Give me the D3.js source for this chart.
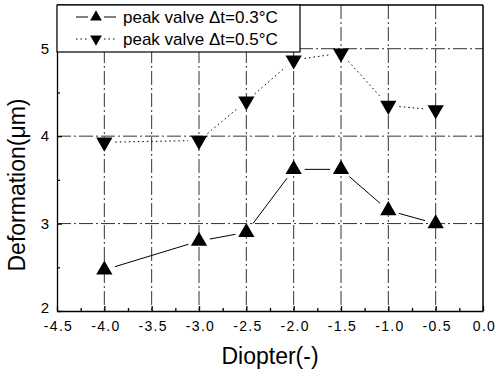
<!DOCTYPE html>
<html><head><meta charset="utf-8">
<script src="https://cdn.jsdelivr.net/npm/d3@7"></script>
<style>body{margin:0;background:#fff}svg{display:block}</style>
</head><body>
<svg id="c" width="496" height="376"></svg>
<script>
const diopter = [-4.0, -3.0, -2.5, -2.0, -1.5, -1.0, -0.5];
const dt03 = [2.47, 2.80, 2.90, 3.62, 3.62, 3.15, 3.00];
const dt05 = [3.93, 3.95, 4.40, 4.87, 4.95, 4.35, 4.30];
const xTicks = [-4.5, -4.0, -3.5, -3.0, -2.5, -2.0, -1.5, -1.0, -0.5, 0.0];
const yTicks = [2, 3, 4, 5];
const seriesNames = ["peak valve \u0394t=0.3\u00b0C", "peak valve \u0394t=0.5\u00b0C"];

const svg = d3.select("#c");
const m = {l: 57, r: 483, t: 5, b: 311};
const x = d3.scaleLinear().domain([-4.5, 0]).range([m.l, m.r]);
const y = d3.scaleLinear().domain([2, 5.5]).range([m.b, m.t]);
const font = "Liberation Sans, Arial, sans-serif";

// grid
const g = svg.append("g");
xTicks.slice(1, -1).forEach(v => {
  g.append("line").attr("x1", x(v)).attr("x2", x(v)).attr("y1", m.t).attr("y2", m.b)
    .attr("stroke", "#333").attr("stroke-width", 1).attr("stroke-dasharray", "14,3,2,3");
});
yTicks.slice(1).forEach(v => {
  g.append("line").attr("x1", m.l).attr("x2", m.r).attr("y1", y(v)).attr("y2", y(v))
    .attr("stroke", "#333").attr("stroke-width", 1).attr("stroke-dasharray", "14,3,2,3");
});

// axes
const fmtX = d => d3.format(".1f")(d).replace("\u2212", "-");
const xAxis = d3.axisBottom(x).tickValues(xTicks).tickFormat(fmtX).tickSizeInner(-5).tickSizeOuter(0).tickPadding(10);
const xg = svg.append("g").attr("transform", `translate(0,${m.b})`).call(xAxis);
const xMinor = d3.axisBottom(x).tickValues(d3.range(-4.25, 0, 0.5)).tickFormat("").tickSizeInner(-3).tickSizeOuter(0);
svg.append("g").attr("transform", `translate(0,${m.b})`).call(xMinor).select(".domain").remove();
const yAxis = d3.axisLeft(y).tickValues(yTicks).tickFormat(d3.format("d")).tickSizeInner(-5).tickSizeOuter(0).tickPadding(8);
const yg = svg.append("g").attr("transform", `translate(${m.l},0)`).call(yAxis);
const yMinor = d3.axisLeft(y).tickValues([2.5, 3.5, 4.5, 5.5]).tickFormat("").tickSizeInner(-3).tickSizeOuter(0);
svg.append("g").attr("transform", `translate(${m.l},0)`).call(yMinor).select(".domain").remove();
svg.selectAll(".tick text").attr("font-family", font).attr("fill", "#000");
xg.selectAll(".tick text").attr("font-size", 14).attr("letter-spacing", 1.3).attr("dx", 1);
yg.selectAll(".tick text").attr("font-size", 15);
yg.selectAll(".tick text").filter(d => d === 2).attr("dy", "0.1em");
svg.selectAll(".domain, .tick line").attr("stroke", "#000").attr("stroke-width", 1.3);

// frame top/right
svg.append("line").attr("x1", m.l).attr("x2", m.r).attr("y1", m.t).attr("y2", m.t).attr("stroke", "#000").attr("stroke-width", 1.5);
svg.append("line").attr("x1", m.r).attr("x2", m.r).attr("y1", m.t).attr("y2", m.b).attr("stroke", "#000").attr("stroke-width", 1.5);

// series
function drawLine(vals, dash) {
  const pts = diopter.map((d, i) => [x(d), y(vals[i])]);
  for (let i = 0; i < pts.length - 1; i++) {
    const [x1, y1] = pts[i], [x2, y2] = pts[i + 1];
    const dx = x2 - x1, dy = y2 - y1, L = Math.hypot(dx, dy), gap = 11;
    if (L <= 2 * gap) continue;
    svg.append("line")
      .attr("x1", x1 + dx * gap / L).attr("y1", y1 + dy * gap / L)
      .attr("x2", x2 - dx * gap / L).attr("y2", y2 - dy * gap / L)
      .attr("stroke", "#000").attr("stroke-width", 1).attr("stroke-dasharray", dash);
  }
}
drawLine(dt03, null);
drawLine(dt05, "1.5,3");

const triUp = d3.symbol().type(d3.symbolTriangle).size(115);
function tri(px, py, down) {
  return svg.append("path").attr("d", triUp())
    .attr("transform", `translate(${px},${py})` + (down ? " rotate(180)" : ""))
    .attr("fill", "#000");
}
diopter.forEach((d, i) => tri(x(d), y(dt03[i]), false));
diopter.forEach((d, i) => tri(x(d), y(dt05[i]), true));

// legend
const lg = svg.append("g");
lg.append("rect").attr("x", m.l).attr("y", m.t).attr("width", 243).attr("height", 47)
  .attr("fill", "#fff").attr("stroke", "#000").attr("stroke-width", 1.2);
[[17, null, false], [39, "1.5,3", true]].forEach(([ly, dash, down], i) => {
  lg.append("line").attr("x1", 76).attr("x2", 88).attr("y1", ly).attr("y2", ly).attr("stroke", "#000").attr("stroke-dasharray", dash);
  lg.append("line").attr("x1", 104).attr("x2", 116).attr("y1", ly).attr("y2", ly).attr("stroke", "#000").attr("stroke-dasharray", dash);
  lg.append("path").attr("d", d3.symbol().type(d3.symbolTriangle).size(60)())
    .attr("transform", `translate(96,${ly})` + (down ? " rotate(180)" : "")).attr("fill", "#000");
  lg.append("text").attr("x", 123).attr("y", ly + 6).attr("font-family", font).attr("font-size", 17)
    .text(seriesNames[i]);
});

// titles
svg.append("text").attr("x", 270).attr("y", 364).attr("text-anchor", "middle")
  .attr("font-family", font).attr("font-size", 23).text("Diopter(-)");
svg.append("text").attr("transform", `translate(25,185) rotate(-90)`).attr("text-anchor", "middle")
  .attr("font-family", font).attr("font-size", 23).text("Deformation(\u03bcm)");
</script>
</body></html>
